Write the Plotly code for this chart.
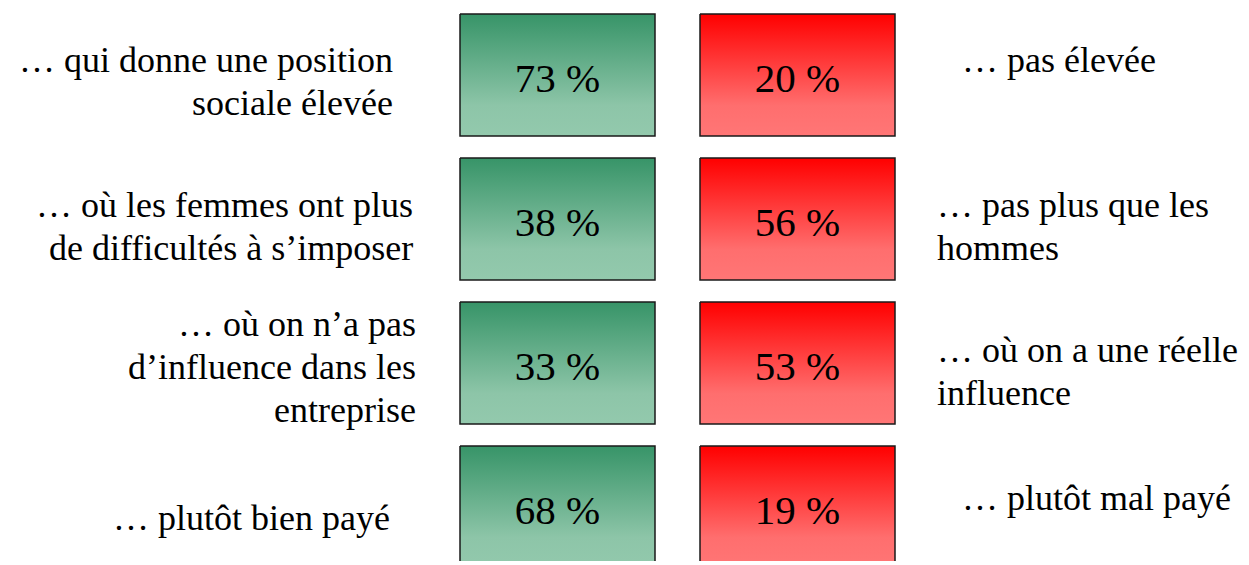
import plotly.graph_objects as go

# data
left_labels = [
    "… qui donne une position<br>sociale élevée",
    "… où les femmes ont plus<br>de difficultés à s’imposer",
    "… où on n’a pas<br>d’influence dans les<br>entreprise",
    "… plutôt bien payé",
]
right_labels = [
    "… pas élevée",
    "… pas plus que les<br>hommes",
    "… où on a une réelle<br>influence",
    "… plutôt mal payé",
]
pct_yes = [73, 38, 33, 68]
pct_no = [20, 56, 53, 19]

# layout constants (pixel space of the page)
W, H = 1249, 565
off = 8  # body margin of the html page
row_top0 = 14
row_step = 144
box_h = 122
green_x = (460, 655)
red_x = (700, 895)
left_x = [395, 415, 418, 392]
left_y = [81, 226, 367, 518]
right_x = [960, 935, 935, 960]
right_y = [60, 226, 371, 498]
line_h = 43

font_family = "Liberation Serif"
label_size = 36
pct_size = 41

green_scale = [[0, "#379468"], [0.75, "#8dc5a8"], [1, "#93c9ad"]]
red_scale = [[0, "#ff0000"], [0.75, "#ff6e6e"], [1, "#ff7676"]]

fig = go.Figure()

for i in range(len(pct_yes)):
    top = row_top0 + row_step * i
    bot = top + box_h
    for (x0, x1), scale, val in ((green_x, green_scale, pct_yes[i]),
                                 (red_x, red_scale, pct_no[i])):
        fig.add_trace(go.Scatter(
            x=[x0, x1, x1, x0, x0],
            y=[top, top, bot, bot, top],
            mode="lines",
            fill="toself",
            fillgradient=dict(type="vertical", colorscale=scale, start=top, stop=bot),
            line=dict(color="#1a1a1a", width=1.5),
            hoverinfo="skip",
            showlegend=False,
        ))
        fig.add_trace(go.Scatter(
            x=[(x0 + x1) / 2],
            y=[top + 68],
            mode="text",
            text=[f"{val} %"],
            textfont=dict(size=pct_size, color="black", family=font_family),
            hoverinfo="skip",
            showlegend=False,
        ))


def add_label(text, x, y, anchor):
    lines = text.split("<br>")
    n = len(lines)
    for j, ln in enumerate(lines):
        fig.add_annotation(
            text=ln, x=x, y=y + line_h * (j - (n - 1) / 2),
            xref="x", yref="y", showarrow=False,
            xanchor=anchor, yanchor="middle", align=anchor,
            font=dict(size=label_size, color="black", family=font_family),
        )


for i in range(len(left_labels)):
    add_label(left_labels[i], left_x[i], left_y[i], "right")
    add_label(right_labels[i], right_x[i], right_y[i], "left")

fig.update_layout(
    width=W - off, height=H - off - 4,
    margin=dict(l=0, r=0, t=0, b=0),
    paper_bgcolor="white",
    plot_bgcolor="white",
    xaxis=dict(range=[off, W], visible=False, fixedrange=True),
    yaxis=dict(range=[H - 4, off], visible=False, fixedrange=True),
)

fig.write_html("out.html")
